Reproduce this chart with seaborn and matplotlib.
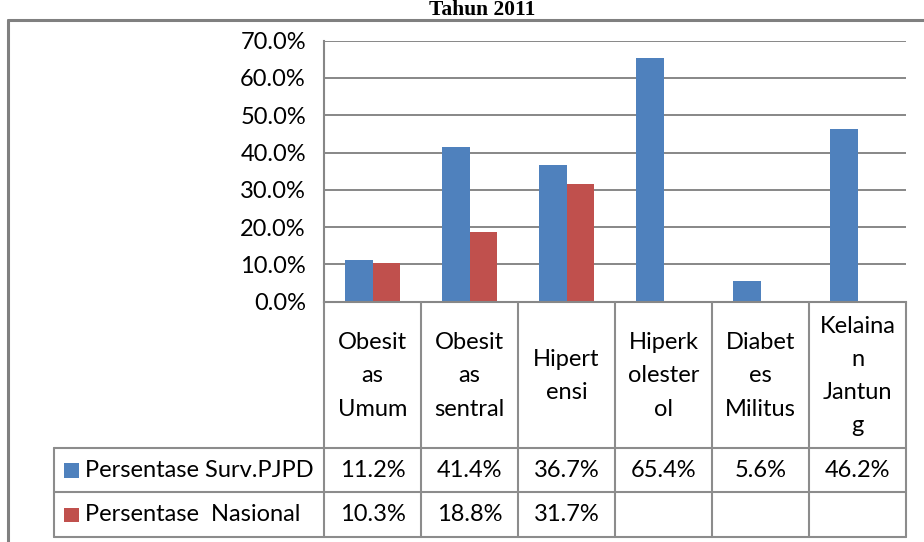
import numpy as np
import pandas as pd
import matplotlib
matplotlib.use("Agg")
import matplotlib.pyplot as plt
import matplotlib.transforms as mtransforms
from matplotlib.lines import Line2D
from matplotlib.patches import Rectangle
import seaborn as sns

# ---------------- data ----------------
categories = ["Obesitas Umum", "Obesitas sentral", "Hipertensi",
              "Hiperkolesterol", "Diabetes Militus", "Kelainan Jantung"]
header_labels = ["Obesit\nas\nUmum", "Obesit\nas\nsentral", "Hipert\nensi",
                 "Hiperk\nolester\nol", "Diabet\nes\nMilitus", "Kelaina\nn\nJantun\ng"]
series_names = ["Persentase Surv.PJPD", "Persentase  Nasional"]
surv_pjpd = [11.2, 41.4, 36.7, 65.4, 5.6, 46.2]
nasional = [10.3, 18.8, 31.7, np.nan, np.nan, np.nan]
y_ticks = [0, 10, 20, 30, 40, 50, 60, 70]
title = "Tahun 2011"

colors = ["#4F81BD", "#C0504D"]
grid_c = "#878787"
line_c = "#8C8C8C"

df = pd.DataFrame({
    "category": categories * 2,
    "series": [series_names[0]] * len(categories) + [series_names[1]] * len(categories),
    "value": surv_pjpd + nasional,
})

sns.set_theme(style="white")
plt.rcParams["font.family"] = ["Lato", "DejaVu Sans"]

W, H = 924, 542
fig = plt.figure(figsize=(W / 100, H / 100), dpi=100)
fig.patch.set_facecolor("white")

ax_left, ax_right, ax_top, ax_bot = 324, 906, 40.7, 301.7
ax = fig.add_axes([ax_left / W, 1 - ax_bot / H, (ax_right - ax_left) / W, (ax_bot - ax_top) / H])

sns.barplot(data=df, x="category", y="value", hue="series", order=categories,
            hue_order=series_names, palette=colors, width=0.57, saturation=1,
            legend=False, ax=ax, linewidth=0)

fs = 17

ax.set_ylim(0, 70)
ax.set_xlim(-0.5, len(categories) - 0.5)
ax.set_yticks(y_ticks)
ax.set_yticklabels([f"{v:.1f}%" for v in y_ticks], fontsize=fs, color="#000000")
ax.set_xticks([])
ax.set_xlabel("")
ax.set_ylabel("")
ax.tick_params(axis="y", length=0, pad=13)
ax.yaxis.grid(True, color=grid_c, linewidth=1.4)
ax.set_axisbelow(True)
for s in ["top", "right"]:
    ax.spines[s].set_visible(False)
for s in ["left", "bottom"]:
    ax.spines[s].set_color(grid_c)
    ax.spines[s].set_linewidth(1.5)

# ---------------- data table ----------------
def fy(y):
    return 1 - y / H

trans = mtransforms.blended_transform_factory(ax.transData, fig.transFigure)

row_top, row1, row2, row_bot = ax_bot, 448.3, 492.3, 537.3
lab_left = 54.3

# vertical column lines
for i in range(len(categories) + 1):
    fig.add_artist(Line2D([i - 0.5, i - 0.5], [fy(row_top), fy(row_bot)],
                          transform=trans, color=line_c, lw=1.5))
# left edge of label column
fig.add_artist(Line2D([lab_left / W, lab_left / W], [fy(row1), fy(row_bot)],
                      transform=fig.transFigure, color=line_c, lw=1.5))
# horizontal lines
x_end = trans.transform((len(categories) - 0.5, 0))[0] / W
for y in [row1, row2, row_bot]:
    fig.add_artist(Line2D([lab_left / W, x_end], [fy(y), fy(y)],
                          transform=fig.transFigure, color=line_c, lw=1.5))

# header labels
for i, lab in enumerate(header_labels):
    fig.text(i, fy(376), lab, transform=trans, ha="center",
             va="center", fontsize=fs, linespacing=1.72, color="black")

# values
rows = [surv_pjpd, nasional]
row_centers = [(row1 + row2) / 2, (row2 + row_bot) / 2]
for vals, yc in zip(rows, row_centers):
    for i, v in enumerate(vals):
        if not np.isnan(v):
            fig.text(i, fy(yc), f"{v:.1f}%", transform=trans, ha="center",
                     va="center", fontsize=fs, color="black")

# legend keys + series names
for name, col, yc in zip(series_names, colors, row_centers):
    fig.add_artist(Rectangle((64 / W, fy(yc + 7.5)), 14.5 / W, 14.5 / H,
                             transform=fig.transFigure, facecolor=col, edgecolor="none"))
    fig.text(85 / W, fy(yc), name, ha="left", va="center", fontsize=fs, color="black")

# outer frame and title
fig.add_artist(Line2D([8 / W, 1.0], [fy(20), fy(20)], transform=fig.transFigure,
                      color="#808080", lw=2.2))
fig.add_artist(Line2D([8 / W, 8 / W], [fy(20), 0.0], transform=fig.transFigure,
                      color="#808080", lw=2.2))
fig.text(482 / W, fy(15), title, ha="center", va="baseline", fontsize=15.5,
         fontweight="bold", family=["Liberation Serif", "DejaVu Serif"], color="black")

fig.savefig("out.png", dpi=100, facecolor="white")
